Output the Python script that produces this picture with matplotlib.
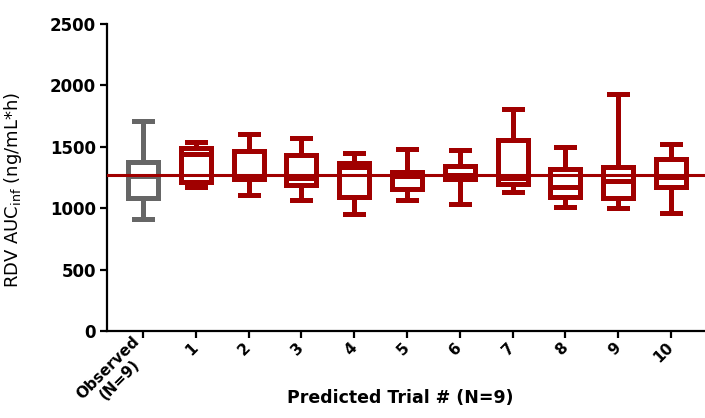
import matplotlib.pyplot as plt

# ---------- data ----------
groups = ["Observed\n(N=9)", "1", "2", "3", "4", "5", "6", "7", "8", "9", "10"]
whis_lo = [912, 1175, 1110, 1067, 955, 1067, 1037, 1135, 1007, 1000, 965]
q1 = [1080, 1210, 1235, 1185, 1090, 1160, 1238, 1200, 1090, 1086, 1175]
medians = [1265, 1440, 1262, 1243, 1332, 1265, 1272, 1245, 1175, 1225, 1255]
q3 = [1379, 1488, 1468, 1430, 1368, 1292, 1345, 1555, 1322, 1338, 1401]
whis_hi = [1712, 1540, 1604, 1569, 1452, 1479, 1471, 1808, 1501, 1932, 1523]
ref_value = 1268

yticks = [0, 500, 1000, 1500, 2000, 2500]

GREY = "#666666"
RED = "#A00000"

plt.rcParams["font.family"] = ["DejaVu Sans"]

fig = plt.figure(figsize=(7.05, 4.18), dpi=100)
ax = fig.add_axes([0.1518, 0.2081, 0.8482, 0.7345])

stats = []
for i, name in enumerate(groups):
    stats.append(
        dict(
            med=medians[i],
            q1=q1[i],
            q3=q3[i],
            whislo=whis_lo[i],
            whishi=whis_hi[i],
            fliers=[],
            label=name,
        )
    )

positions = list(range(len(groups)))
lw = 3.6
parts = ax.bxp(
    stats,
    positions=positions,
    widths=0.57,
    capwidths=0.34,
    showfliers=False,
    boxprops=dict(linewidth=lw, solid_joinstyle="miter"),
    whiskerprops=dict(linewidth=lw),
    capprops=dict(linewidth=lw, solid_capstyle="projecting"),
    medianprops=dict(linewidth=lw, solid_capstyle="butt"),
)

# first box grey, predicted trials in dark red
colors = [GREY] + [RED] * (len(groups) - 1)
for i, c in enumerate(colors):
    parts["boxes"][i].set_color(c)
    parts["medians"][i].set_color(c)
    for art in parts["whiskers"][2 * i:2 * i + 2]:
        art.set_color(c)
    for art in parts["caps"][2 * i:2 * i + 2]:
        art.set_color(c)

ax.axhline(ref_value, color=RED, linewidth=2.2, zorder=5)

ax.set_ylim(0, 2500)
ax.set_xlim(-0.682, 10.644)
ax.set_yticks(yticks)
ax.set_yticklabels([str(t) for t in yticks], fontsize=12, fontweight="bold")
ax.set_xticks(positions)
ax.set_xticklabels(
    groups,
    rotation=45,
    ha="right",
    va="center",
    rotation_mode="anchor",
    fontsize=11,
    fontweight="bold",
    multialignment="center",
)

for side in ["top", "right"]:
    ax.spines[side].set_visible(False)
for side in ["left", "bottom"]:
    ax.spines[side].set_linewidth(1.6)

ax.tick_params(axis="both", direction="out", length=5, width=1.6, pad=3)
ax.tick_params(axis="x", pad=5)

ax.set_ylabel("RDV AUC$_{\\mathregular{inf}}$ (ng/mL*h)", fontsize=13)
ax.yaxis.set_label_coords(-0.138, 0.46)
ax.set_xlabel("Predicted Trial # (N=9)", fontsize=12.5, fontweight="bold")
ax.xaxis.set_label_coords(0.49, -0.19)

fig.savefig("out.png", dpi=100)
